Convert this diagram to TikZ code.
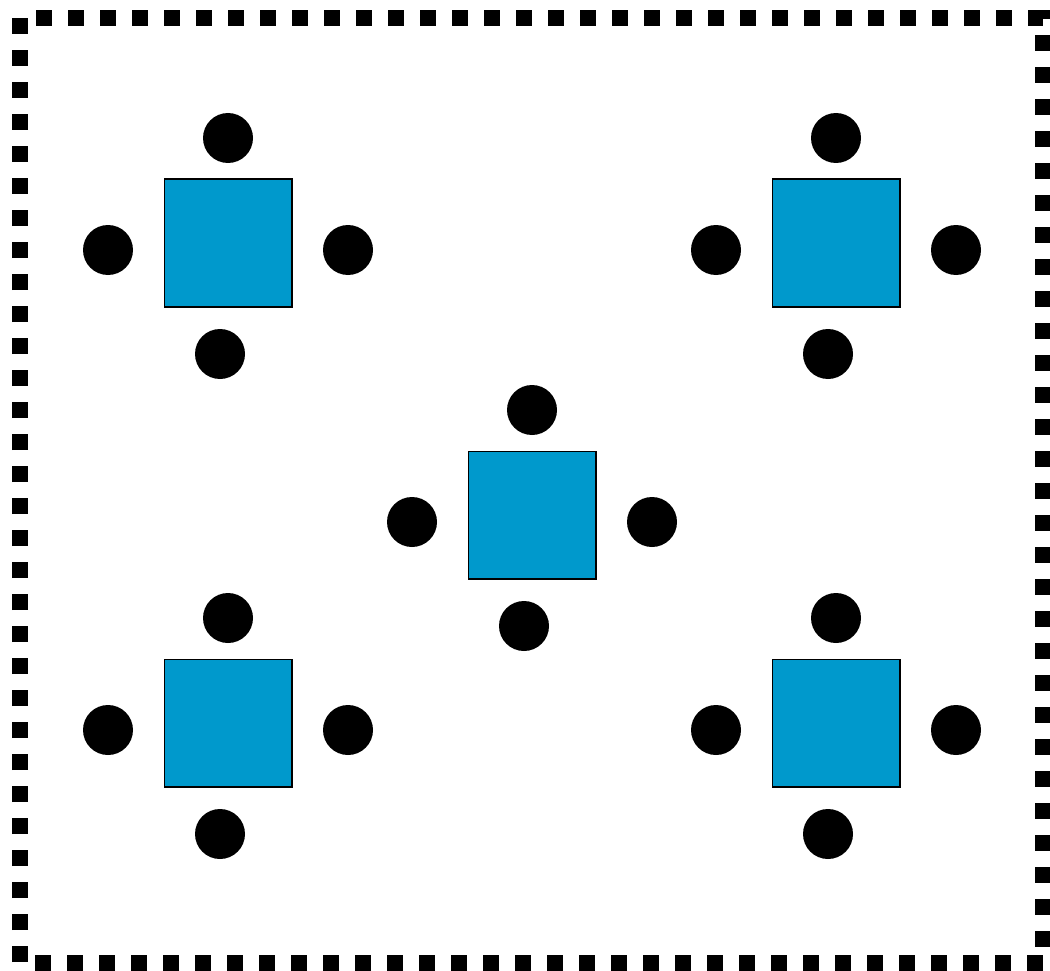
\documentclass[tikz,border=0pt]{standalone}
\definecolor{tblue}{HTML}{0099CC}
\tikzset{
  table/.style={draw=black, line width=1.5pt, fill=tblue, minimum size=127.5pt, inner sep=0pt, outer sep=0pt},
  seat/.style={circle, fill=black, minimum size=50pt, inner sep=0pt, outer sep=0pt},
  frame/.style={draw=black, line width=15.5pt, dash pattern=on 16pt off 16pt, dash phase=16pt, line cap=butt, line join=miter}
}
\begin{document}
\begin{tikzpicture}[x=1pt,y=-1pt]
\useasboundingbox (0,0) rectangle (1050,971);
\coordinate (c1) at (20,18);
\coordinate (c2) at (1043,18);
\coordinate (c3) at (1043,963);
\coordinate (c4) at (20,963);
\draw[frame] (c1) -- (c2) -- (c3) -- (c4) -- cycle;
% table groups
\foreach \n/\x/\y in {tl/228/243, tr/836/243, m/532/515, bl/228/723, br/836/723}{
  \node[table] (t\n) at (\x,\y) {};
  \node[seat] (s\n t) at (\x,\y-105) {};
  \node[seat] (s\n l) at (\x-120,\y+7) {};
  \node[seat] (s\n r) at (\x+120,\y+7) {};
  \node[seat] (s\n b) at (\x-8,\y+111) {};
}
\end{tikzpicture}
\end{document}
